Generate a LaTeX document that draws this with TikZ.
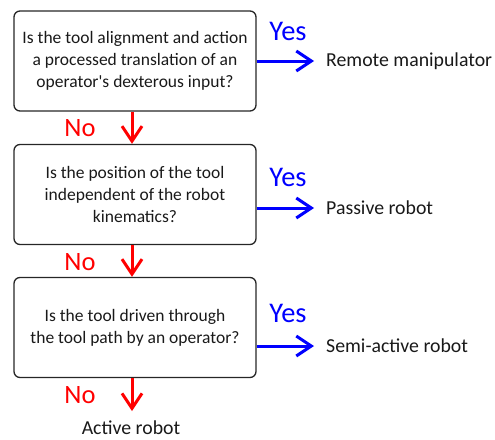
\documentclass[tikz,border=0pt]{standalone}
\usepackage{fontspec}
\setmainfont{Carlito}
\usetikzlibrary{arrows.meta}

\begin{document}
\begin{tikzpicture}[x=1pt,y=-1pt,
  question/.style={draw=black!85, line width=1.3pt, rounded corners=6pt,
    minimum width=242pt, minimum height=100pt, align=center,
    font=\fontsize{17.5}{22}\selectfont, text=black!90},
  outcome/.style={font=\fontsize{19.8}{22}\selectfont, text=black!90, inner sep=0pt},
  yeslabel/.style={font=\fontsize{28.5}{30}\selectfont, text=blue},
  nolabel/.style={font=\fontsize{26.5}{28}\selectfont, text=red},
  yesarrow/.style={draw=blue, line width=3pt,
    -{Straight Barb[length=15pt, width=20pt, line width=3pt]}},
  noarrow/.style={draw=red, line width=3pt,
    -{Straight Barb[length=15pt, width=20pt, line width=3pt]}}]
\useasboundingbox (0,0) rectangle (495,439);

% decision boxes
\node[question] (q1) at (135,61)
  {Is the tool alignment and action\\a processed translation of an\\operator\textquotesingle s dexterous input?};
\node[question] (q2) at (135,194.5)
  {Is the position of the tool\\independent of the robot\\kinematics?};
\node[question] (q3) at (135,327.5)
  {Is the tool driven through\\the tool path by an operator?};

% outcomes
\node[outcome, anchor=west] (r1) at (326,61) {Remote manipulator};
\node[outcome, anchor=west] (r2) at (326,208) {Passive robot};
\node[outcome, anchor=west] (r3) at (326,346) {Semi-active robot};
\node[outcome, anchor=base] (r4) at (131,434) {Active robot};

% yes branches
\draw[yesarrow, shorten >=12pt] (q1.east |- r1.west) -- (r1.west);
\draw[yesarrow, shorten >=12pt] (q2.east |- r2.west) -- (r2.west);
\draw[yesarrow, shorten >=12pt] (q3.east |- r3.west) -- (r3.west);
\node[yeslabel] (y1) at (288,31) {Yes};
\node[yeslabel] (y2) at (288,177) {Yes};
\node[yeslabel] (y3) at (288,313) {Yes};

% no branches
\draw[noarrow] ([xshift=-3pt]q1.south) -- ([xshift=-3pt]q2.north);
\draw[noarrow] ([xshift=-3pt]q2.south) -- ([xshift=-3pt]q3.north);
\draw[noarrow, shorten >=9pt] ([xshift=-3pt]q3.south) -- ([xshift=-3pt]q3.south |- r4.north);
\node[nolabel] (n1) at (80,128) {No};
\node[nolabel] (n2) at (80,262) {No};
\node[nolabel] (n3) at (80,395) {No};
\end{tikzpicture}
\end{document}
